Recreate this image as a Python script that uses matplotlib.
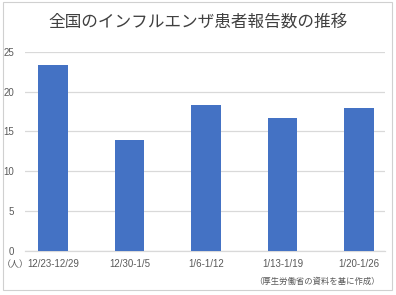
import matplotlib
matplotlib.use("Agg")
import matplotlib.pyplot as plt
from matplotlib.patches import Rectangle

# weekly influenza reports per medical institution
weeks = ["12/23-12/29", "12/30-1/5", "1/6-1/12", "1/13-1/19", "1/20-1/26"]
reports = [23.3, 13.9, 18.3, 16.7, 18.0]
yticks = [0, 5, 10, 15, 20, 25]

title = "全国のインフルエンザ患者報告数の推移"
unit_label = "（人）"
source_note = "（厚生労働省の資料を基に作成）"

jp_font = ["Noto Sans CJK JP", "DejaVu Sans"]
bar_color = "#4472C4"
text_gray = "#595959"
grid_gray = "#D9D9D9"

fig = plt.figure(figsize=(3.96, 2.95), dpi=100)
fig.patch.set_facecolor("white")

# light frame around the whole chart
fig.patches.append(Rectangle((3 / 396, 5 / 295), 389 / 396, 288 / 295,
                             transform=fig.transFigure, fill=False,
                             edgecolor="#D0D0D0", linewidth=0.8))

ax = fig.add_axes([25 / 396, 1 - 251 / 295, 360 / 396, (251 - 51.7) / 295])
x = list(range(len(weeks)))
ax.bar(x, reports, width=0.39, color=bar_color, zorder=3)

ax.set_xlim(-0.366, 4.34)
ax.set_ylim(0, 25)
ax.set_yticks(yticks)
ax.set_xticks(x)
ax.set_xticklabels(weeks)
ax.yaxis.grid(True, color=grid_gray, linewidth=0.9, zorder=0)
ax.set_axisbelow(True)
for side in ["top", "right", "left"]:
    ax.spines[side].set_visible(False)
ax.spines["bottom"].set_color(grid_gray)
ax.spines["bottom"].set_linewidth(0.9)
ax.tick_params(axis="both", length=0, labelsize=7, labelcolor=text_gray,
               labelfontfamily="Liberation Sans")
ax.tick_params(axis="y", pad=8)
ax.tick_params(axis="x", pad=6)

fig.text(0.5, 1 - 22 / 295, title, ha="center", va="center",
         fontsize=12, color="#404040", family=jp_font)
fig.text(2 / 396, 1 - 265 / 295, unit_label, ha="left", va="center",
         fontsize=6.5, color=text_gray, family=jp_font)
fig.text(380 / 396, 1 - 281 / 295, source_note, ha="right", va="center",
         fontsize=6, color=text_gray, family=jp_font)

fig.savefig("out.png", dpi=100, facecolor="white")
